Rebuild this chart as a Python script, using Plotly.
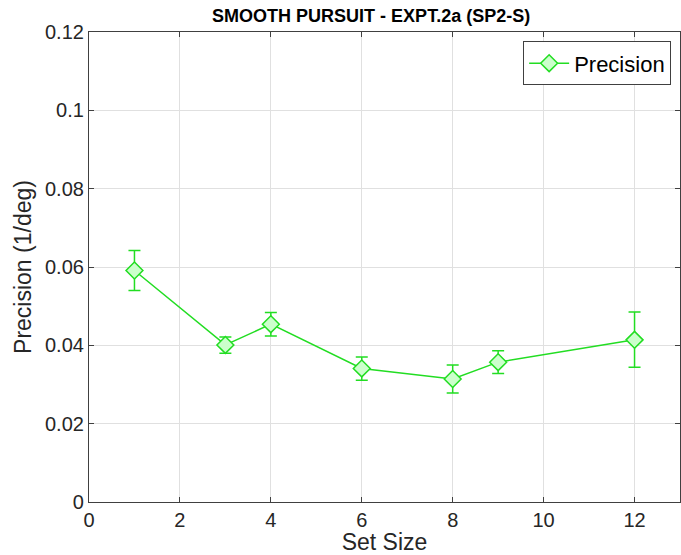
import plotly.graph_objects as go

# Mean precision per set size, with upper/lower error extents
set_size = [1, 3, 4, 6, 8, 9, 12]
precision = [0.0591, 0.0401, 0.0454, 0.0341, 0.0314, 0.0357, 0.0414]
err_plus = [0.0051, 0.0020, 0.0030, 0.0029, 0.0036, 0.0029, 0.0071]
err_minus = [0.0051, 0.0021, 0.0030, 0.0030, 0.0036, 0.0029, 0.0070]

x_ticks = [0, 2, 4, 6, 8, 10, 12]
y_ticks = [0, 0.02, 0.04, 0.06, 0.08, 0.1, 0.12]
y_tick_text = ["0", "0.02", "0.04", "0.06", "0.08", "0.1", "0.12"]

GREEN = "#22dd22"
FILL = "#ccffcc"
AXIS = "#404040"
FONT = "Liberation Sans, Arial, sans-serif"

fig = go.Figure()
fig.add_trace(go.Scatter(
    x=set_size, y=precision, name="Precision",
    mode="lines+markers",
    line=dict(color=GREEN, width=1.5),
    marker=dict(symbol="diamond", size=13, color=FILL,
                line=dict(color=GREEN, width=1.5)),
    error_y=dict(type="data", symmetric=False, array=err_plus,
                 arrayminus=err_minus, color=GREEN, thickness=1.5, width=6),
))

axis_common = dict(
    showline=True, linecolor=AXIS, linewidth=1.2, mirror="ticks",
    ticks="inside", ticklen=5, tickcolor=AXIS,
    showgrid=True, gridcolor="#e0e0e0", gridwidth=1,
    zeroline=False,
    tickfont=dict(family=FONT, size=20, color="#262626"),
)

fig.update_layout(
    width=681, height=555,
    margin=dict(l=89, r=1, t=32, b=53),
    paper_bgcolor="white", plot_bgcolor="white",
    title=dict(text="<b>SMOOTH PURSUIT - EXPT.2a (SP2-S)</b>",
               x=0.545, xanchor="center", y=0.971, yanchor="middle",
               font=dict(family=FONT, size=18, color="black")),
    xaxis=dict(range=[0, 13], tickvals=x_ticks,
               title=dict(text="Set Size", standoff=0,
                          font=dict(family=FONT, size=23, color="#262626")),
               **axis_common),
    yaxis=dict(range=[0, 0.12], tickvals=y_ticks, ticktext=y_tick_text,
               title=dict(text="Precision (1/deg)", standoff=6,
                          font=dict(family=FONT, size=23, color="#262626")),
               **axis_common),
    legend=dict(x=0.985, y=0.98, xanchor="right", yanchor="top",
                bgcolor="white", bordercolor=AXIS, borderwidth=1,
                font=dict(family=FONT, size=22, color="black"),
                itemwidth=40, tracegroupgap=0),
    showlegend=True,
)

fig.write_html("out.html")
